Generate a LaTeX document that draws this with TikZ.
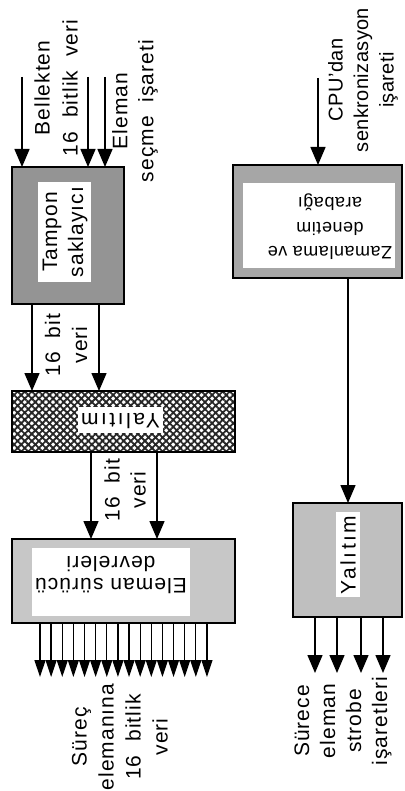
\documentclass[tikz,border=0pt]{standalone}
\usepackage{fontspec}
\setmainfont{Liberation Sans}[LetterSpace=5]
\usetikzlibrary{arrows.meta,patterns.meta}
\begin{document}
\begin{tikzpicture}[x=1pt,y=-1pt,
 lbl/.style={font=\fontsize{21}{27}\selectfont, align=center, rotate=90, inner sep=0pt},
 boxtxt/.style={font=\fontsize{21}{24}\selectfont, align=center, inner sep=0pt},
 blk/.style={draw=black, line width=2pt, inner sep=0pt, outer sep=0pt},
 win/.style={fill=white, inner sep=0pt, outer sep=0pt},
 arr/.style={line width=1.5pt, -{Triangle[length=18pt,width=15pt]}},
 sarr/.style={line width=1.3pt, -{Triangle[length=17pt,width=11pt]}},
 hatchfill/.style={pattern={Hatch[angle=45,distance=5pt,line width=1.8pt]}, pattern color=black!85},
]
\useasboundingbox (0,0) rectangle (404,791);

% ---------- left column ----------
\node[blk, fill=black!42, minimum width=112pt, minimum height=137pt] (tampon) at (68,235.5) {};
\node[win, minimum width=53pt, minimum height=100pt] (tamponw) at (64.5,232) {};
\node[boxtxt, rotate=90, font=\fontsize{21}{26}\selectfont] (tamponl) at (65,232) {Tampon\\saklayıcı};

\node[blk, hatchfill, minimum width=223pt, minimum height=61pt] (yal1) at (123.5,421.5) {};
\node[win, minimum width=85pt, minimum height=26pt] (yal1w) at (120.5,420) {};
\node[boxtxt, rotate=180, font=\fontsize{21}{24}\selectfont\addfontfeatures{LetterSpace=12}] (yal1l) at (120.5,421) {Yalıtım};

\node[blk, fill=black!22, minimum width=223pt, minimum height=84pt] (surucu) at (123.5,581) {};
\node[win, minimum width=158pt, minimum height=68pt] (surucuw) at (111,582) {};
\node[boxtxt, rotate=180, font=\fontsize{21}{22}\selectfont] (suruculbl) at (111,575) {Eleman sürücü\\devreleri};

% ---------- right column ----------
\node[blk, line width=2.4pt, fill=black!35, minimum width=169pt, minimum height=113pt] (zaman) at (317.5,221.5) {};
\node[win, minimum width=152pt, minimum height=85pt] (zamanw) at (319,225.5) {};
\node[boxtxt, rotate=180, font=\fontsize{18}{24.5}\selectfont\addfontfeatures{LetterSpace=3}] (zamanl) at (330,227) {Zamanlama ve\\denetim\\arabağı};

\node[blk, fill=black!25, minimum width=109pt, minimum height=114pt] (yal2) at (347.5,560) {};
\node[win, minimum width=24pt, minimum height=85pt] (yal2w) at (348,554.5) {};
\node[boxtxt, rotate=90, font=\fontsize{21}{24}\selectfont\addfontfeatures{LetterSpace=12}] (yal2l) at (348,555) {Yalıtım};

% ---------- labels ----------
\node[lbl, font=\fontsize{21}{28}\selectfont] (lA) at (56,88) {Bellekten\\16\ \ bitlik\ \ veri};
\node[lbl, font=\fontsize{21}{26}\selectfont] (lB) at (135,111) {Eleman\\seçme\ \ işareti};
\node[lbl] (lC) at (66,345) {16\ \ bit\\veri};
\node[lbl, font=\fontsize{21}{26}\selectfont] (lD) at (125,490) {16\ \ bit\\veri};
\node[lbl] (lE) at (120,737) {Süreç\\elemanına\\16\ \ bitlik\\veri};
\node[lbl, font=\fontsize{20}{25.5}\selectfont\addfontfeatures{LetterSpace=2}] (lF) at (363,80) {CPU'dan\\senkronizasyon\\işareti};
\node[lbl, font=\fontsize{21}{26}\selectfont] (lG) at (343,721) {Sürece\\eleman\\strobe\\işaretleri};

% ---------- connectors ----------
\coordinate (in1) at (22,77);
\coordinate (in2) at (88,77);
\coordinate (in3) at (105,77);
\draw[arr] (in1) -- (in1 |- tampon.north);
\draw[arr] (in2) -- (in2 |- tampon.north);
\draw[arr] (in3) -- (in3 |- tampon.north);

\draw[arr] (tampon.south -| 32,0) -- (yal1.north -| 32,0);
\draw[arr] (tampon.south -| 99,0) -- (yal1.north -| 99,0);

\draw[arr] (yal1.south -| 91,0) -- (surucu.north -| 91,0);
\draw[arr] (yal1.south -| 157,0) -- (surucu.north -| 157,0);

\foreach \i in {0,...,15} {
  \coordinate (o\i) at ({40+11.13*\i},677);
  \draw[sarr] (o\i |- surucu.south) -- (o\i);
}

\coordinate (cin) at (318,78);
\draw[arr] (cin) -- (cin |- zaman.north);
\draw[arr] (zaman.south -| 348,0) -- (yal2.north -| 348,0);

\foreach \x [count=\k] in {315,337,361,383} {
  \coordinate (s\k) at (\x,673);
  \draw[arr] (s\k |- yal2.south) -- (s\k);
}
\end{tikzpicture}
\end{document}
